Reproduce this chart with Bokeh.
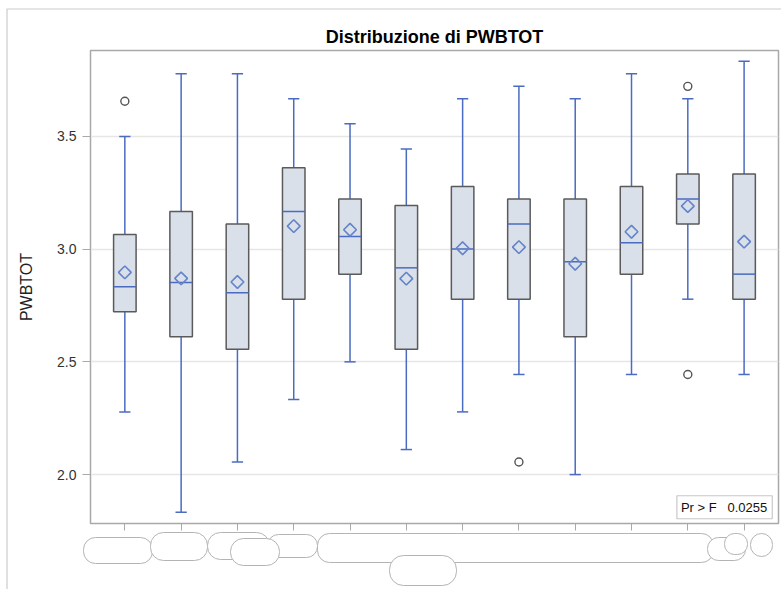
import numpy as np
from bokeh.plotting import figure
from bokeh.models import Range1d, FixedTicker, Label
from bokeh.core.properties import value
from bokeh.embed import file_html
from bokeh.resources import INLINE

# Summary statistics of PWBTOT for each of the 12 groups
groups = list(range(1, 13))
q1 = [2.722, 2.611, 2.556, 2.778, 2.889, 2.556, 2.778, 2.778, 2.611, 2.889, 3.111, 2.778]
median = [2.833, 2.852, 2.806, 3.167, 3.056, 2.917, 3.000, 3.111, 2.944, 3.028, 3.222, 2.889]
q3 = [3.065, 3.167, 3.111, 3.361, 3.222, 3.194, 3.278, 3.222, 3.222, 3.278, 3.333, 3.333]
mean = [2.897, 2.870, 2.854, 3.102, 3.086, 2.869, 3.004, 3.009, 2.935, 3.077, 3.191, 3.033]
whisker_lo = [2.278, 1.833, 2.056, 2.333, 2.500, 2.111, 2.278, 2.444, 2.000, 2.444, 2.778, 2.444]
whisker_hi = [3.500, 3.778, 3.778, 3.667, 3.556, 3.444, 3.667, 3.722, 3.667, 3.778, 3.667, 3.833]
outlier_group = [1, 8, 11, 11]
outlier_value = [3.656, 2.056, 3.722, 2.444]
y_ticks = [2.0, 2.5, 3.0, 3.5]
title_text = "Distribuzione di PWBTOT"
p_value_text = "Pr > F\u00a0\u00a0\u00a00.0255"

W, H = 781, 589
BORDER_L, BORDER_R, BORDER_T, BORDER_B = 90, 3, 50, 66
X0, X1 = 0.39, 12.611
Y0, Y1 = 1.783, 3.881

BOX_W = 0.4
CAP_W = 0.2
FILL = "#d9e0ea"
EDGE = "#5a5a5a"
BLUE = "#4a6bc0"
MEAN_C = "#6484c9"
FONT = "Liberation Sans"

p = figure(
    width=W, height=H,
    x_range=Range1d(X0, X1), y_range=Range1d(Y0, Y1),
    output_backend="svg", toolbar_location=None,
    min_border_left=BORDER_L, min_border_right=BORDER_R,
    min_border_top=BORDER_T, min_border_bottom=BORDER_B,
    background_fill_color="white", border_fill_color="white",
)

p.outline_line_color = "#a9a9a9"
p.outline_line_width = 1.5

# x axis: one tick per group, labels left blank
p.xaxis.ticker = FixedTicker(ticks=groups)
p.xaxis.major_label_overrides = {g: "" for g in groups}
p.xaxis.major_tick_out = 7
p.xaxis.major_tick_in = 0
p.xaxis.minor_tick_line_color = None
p.xaxis.axis_line_color = "#a9a9a9"
p.xaxis.major_tick_line_color = "#a9a9a9"
p.xgrid.grid_line_color = None

p.yaxis.ticker = FixedTicker(ticks=y_ticks)
p.yaxis.major_label_overrides = {t: f"{t:.1f}" for t in y_ticks}
p.yaxis.major_tick_out = 8
p.yaxis.major_tick_in = 0
p.yaxis.minor_tick_line_color = None
p.yaxis.axis_line_color = "#a9a9a9"
p.yaxis.major_tick_line_color = "#a9a9a9"
p.yaxis.major_label_text_font = FONT
p.yaxis.major_label_text_font_size = "14px"
p.yaxis.major_label_text_color = "#333333"
p.yaxis.major_label_standoff = 6
p.yaxis.axis_label = "PWBTOT"
p.yaxis.axis_label_text_font = FONT
p.yaxis.axis_label_text_font_size = "16px"
p.yaxis.axis_label_text_font_style = "normal"
p.yaxis.axis_label_text_color = "#222222"
p.yaxis.axis_label_standoff = 19
p.ygrid.grid_line_color = "#e6e6e6"
p.ygrid.grid_line_width = 1.5

x = np.array(groups, dtype=float)

# whiskers and caps
p.segment(x, q3, x, whisker_hi, line_color=BLUE, line_width=1.5)
p.segment(x, q1, x, whisker_lo, line_color=BLUE, line_width=1.5)
p.segment(x - CAP_W / 2, whisker_hi, x + CAP_W / 2, whisker_hi, line_color=BLUE, line_width=1.5)
p.segment(x - CAP_W / 2, whisker_lo, x + CAP_W / 2, whisker_lo, line_color=BLUE, line_width=1.5)

# boxes
p.vbar(x=x, bottom=q1, top=q3, width=BOX_W, fill_color=FILL, line_color=EDGE, line_width=1.5)

# medians
p.segment(x - BOX_W / 2, median, x + BOX_W / 2, median, line_color=BLUE, line_width=1.5)

# means
p.scatter(x, mean, marker="square", angle=np.pi / 4, size=9,
          fill_color=None, line_color=MEAN_C, line_width=1.6)

# outliers
p.scatter(outlier_group, outlier_value, marker="circle", size=8,
          fill_color=None, line_color="#555555", line_width=1.4)

# inset with the F-test p-value
p.add_layout(Label(
    x=12.5, y=1.804, text=p_value_text, text_align="right", text_baseline="bottom",
    text_font=FONT, text_font_size="13px", text_color="#111111",
    border_line_color="#c8c8c8", border_line_width=1.2,
    background_fill_color="white", padding=dict(left=4, right=5, top=4, bottom=4),
))


# helpers turning page pixel positions into plot coordinates (for the
# decorations that sit outside the plotting frame)
def page_x(px):
    return X0 + (px - BORDER_L) * (X1 - X0) / (W - BORDER_L - BORDER_R)


def page_y(py):
    return Y1 - (py - BORDER_T) * (Y1 - Y0) / (H - BORDER_T - BORDER_B)


# title, centred over the frame
p.text(x=[(X0 + X1) / 2], y=[page_y(36.7)], text=[title_text],
       text_font=value(FONT), text_font_size="18px", text_font_style="bold",
       text_color="#000000", text_align="center", text_baseline="alphabetic",
       level="overlay")

# masking shapes over the category labels
masks = [
    (83, 152, 537, 563, 12), (150, 207, 532, 560, 13), (207, 269, 532, 559, 13),
    (267, 317, 534, 557, 11), (230, 279, 538, 565, 13), (317, 713, 533, 562, 12),
    (389, 456, 555, 585, 14), (707, 745, 537, 560, 11), (724, 747, 533, 554, 10),
    (750, 772, 533, 556, 11),
]
for l, r, t, b, rad in masks:
    p.quad(left=[page_x(l)], right=[page_x(r)], top=[page_y(t)], bottom=[page_y(b)],
           border_radius=rad, fill_color="white", line_color="#b4b4b4", line_width=1,
           level="overlay")

# outer page frame
p.quad(left=[page_x(6.5)], right=[page_x(2000)], top=[page_y(8.5)], bottom=[page_y(2000)],
       fill_color=None, line_color="#cccccc", line_width=1.2, level="overlay")

open("out.html", "w").write(file_html(p, INLINE))
